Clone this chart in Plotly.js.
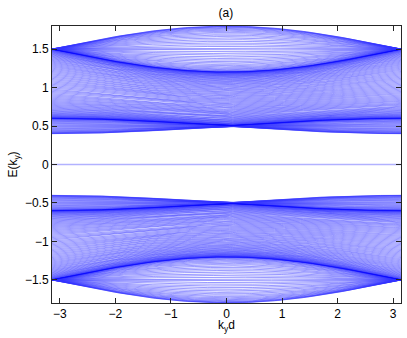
<!DOCTYPE html>
<html>
<head>
<meta charset="utf-8">
<script src="https://cdn.plot.ly/plotly-3.0.1.min.js"></script>
<style>
  html, body { margin: 0; padding: 0; background: #fff; }
  #chart { width: 407px; height: 338px; }
</style>
</head>
<body>
<div id="chart"></div>
<script>
// Tick labels
const kyTicks = [-3, -2, -1, 0, 1, 2, 3];
const energyTicks = [-1.5, -1, -0.5, 0, 0.5, 1, 1.5];

// Band edges (positive branch, mirrored for E < 0):
// edge(ky) = base + cosPart * cos(ky/2) + sinPart * sin(|ky|/2)
const bandNames     = ['outer', 'middle', 'inner'];
const lowerBase     = [1.5, 0.5, 0.5];
const lowerCosPart  = [-0.3, 0.0, 0.0];
const lowerSinPart  = [0.0, 0.1, -0.1];
const upperBase     = [1.5, 1.5, 0.5];
const upperCosPart  = [0.3, -0.3, 0.0];
const upperSinPart  = [0.0, 0.0, 0.1];
const modesPerBand  = [40, 90, 30];
const kySamples     = 241;
const flatBandLevel = [0];

const kyGrid = [];
for (let i = 0; i < kySamples; i++) {
    kyGrid.push(-Math.PI + 2 * Math.PI * i / (kySamples - 1));
}

function edge(base, c, s, ky) {
    return base + c * Math.cos(ky / 2) + s * Math.sin(Math.abs(ky) / 2);
}

function fmt(v) {
    return String(v).replace('-', '\u2212');
}

const traces = [];
bandNames.forEach(function(name, b) {
    const modes = modesPerBand[b];
    [1, -1].forEach(function(sign) {
        const xs = [], ys = [];
        for (let n = 1; n <= modes; n++) {
            const q = Math.cos(n * Math.PI / (modes + 1));
            kyGrid.forEach(function(ky) {
                const lo = edge(lowerBase[b], lowerCosPart[b], lowerSinPart[b], ky);
                const hi = edge(upperBase[b], upperCosPart[b], upperSinPart[b], ky);
                const mid = (lo + hi) / 2, half = (hi - lo) / 2;
                xs.push(ky);
                ys.push(sign * (mid + half * q));
            });
            xs.push(null);
            ys.push(null);
        }
        traces.push({
            x: xs, y: ys,
            type: 'scatter', mode: 'lines',
            name: name,
            opacity: 0.8,
            line: { color: '#0000ff', width: 0.5 },
            hoverinfo: 'skip',
            showlegend: false
        });
    });
});

flatBandLevel.forEach(function(level) {
    traces.push({
        x: [kyGrid[0], kyGrid[kyGrid.length - 1]],
        y: [level, level],
        type: 'scatter', mode: 'lines',
        line: { color: 'rgba(0,0,255,0.3)', width: 1.5 },
        hoverinfo: 'skip',
        showlegend: false
    });
});

const axisCommon = {
    showgrid: false,
    zeroline: false,
    showline: true,
    mirror: 'ticks',
    linecolor: '#262626',
    linewidth: 1,
    ticks: 'inside',
    ticklen: 5,
    tickcolor: '#262626',
    tickfont: { size: 12, color: '#000' }
};

const layout = {
    width: 407,
    height: 338,
    margin: { l: 52, r: 6, t: 26, b: 35 },
    paper_bgcolor: '#fff',
    plot_bgcolor: '#fff',
    font: { family: 'Liberation Sans, Arial, sans-serif', size: 12, color: '#000' },
    title: {
        text: '(a)',
        font: { size: 12 },
        x: 0.555, xanchor: 'center',
        y: 0.962, yanchor: 'middle'
    },
    xaxis: Object.assign({}, axisCommon, {
        range: [-Math.PI, Math.PI],
        tickvals: kyTicks,
        ticktext: kyTicks.map(fmt)
    }),
    yaxis: Object.assign({}, axisCommon, {
        range: [-1.8, 1.8],
        tickvals: energyTicks,
        ticktext: energyTicks.map(fmt),
        title: { text: 'E(k<sub>y</sub>)', font: { size: 12 }, standoff: 4 }
    }),
    annotations: [{
        text: 'k<sub>y</sub>d',
        xref: 'paper', yref: 'paper',
        x: 0.5, y: -0.047,
        xanchor: 'center', yanchor: 'top',
        showarrow: false,
        font: { size: 12 }
    }],
    showlegend: false
};

Plotly.newPlot('chart', traces, layout, { displayModeBar: false, staticPlot: true });
</script>
</body>
</html>
